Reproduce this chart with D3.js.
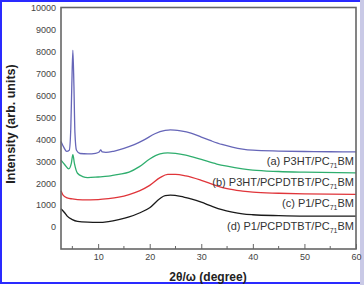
<!DOCTYPE html>
<html>
<head>
<meta charset="utf-8">
<script src="https://cdn.jsdelivr.net/npm/d3@7"></script>
<style>
  html, body { margin: 0; padding: 0; background: #fff; }
  svg { display: block; font-family: Arial, "Liberation Sans", sans-serif; }
</style>
</head>
<body>
<div id="chart"></div>
<script>
'use strict';

// x ticks and y ticks
const xTicks = [10, 20, 30, 40, 50, 60];
const xMinorTicks = [5, 15, 25, 35, 45, 55];
const yTicks = [0, 1000, 2000, 3000, 4000, 5000, 6000, 7000, 8000, 9000, 10000];

// (a) P3HT/PC71BM  [2theta, intensity]
const seriesA = [
  [2.8, 3900], [3.3, 3650], [3.9, 3450], [4.4, 3500], [4.7, 4500], [4.9, 6500],
  [5.1, 8050], [5.3, 6500], [5.5, 4300], [5.8, 3500], [6.5, 3350], [8, 3330],
  [9.5, 3360], [10.2, 3420], [10.5, 3510], [10.8, 3420], [11.5, 3400], [13, 3450],
  [15, 3580], [17, 3750], [19, 3980], [21, 4250], [23, 4400], [24, 4430],
  [26, 4380], [28, 4280], [30, 4100], [32, 3920], [34, 3760], [36, 3640],
  [38, 3550], [40, 3500], [45, 3460], [50, 3440], [55, 3430], [60, 3420]
];
// (b) P3HT/PCPDTBT/PC71BM
const seriesB = [
  [2.8, 3050], [3.5, 2850], [4.3, 2650], [4.8, 2900], [5.1, 3300], [5.4, 2900],
  [6, 2450], [7, 2300], [8, 2250], [10, 2280], [12, 2320], [14, 2400],
  [16, 2500], [18, 2750], [20, 3100], [22, 3330], [23.5, 3380], [25, 3360],
  [27, 3280], [30, 3080], [33, 2870], [35, 2770], [38, 2650], [40, 2590],
  [45, 2530], [50, 2500], [60, 2470]
];
// (c) P1/PC71BM
const seriesC = [
  [2.8, 1650], [3.2, 1450], [4, 1330], [5, 1280], [7, 1240], [10, 1250],
  [12, 1290], [14, 1360], [16, 1480], [18, 1650], [20, 1900], [22, 2250],
  [23.5, 2400], [25, 2400], [27, 2330], [30, 2130], [33, 1880], [35, 1750],
  [38, 1640], [40, 1590], [45, 1540], [50, 1510], [60, 1490]
];
// (d) P1/PCPDTBT/PC71BM
const seriesD = [
  [2.8, 830], [3.5, 650], [4, 500], [5, 340], [6, 260], [8, 220], [10, 210],
  [12, 250], [14, 340], [16, 460], [18, 640], [20, 880], [22, 1300], [23, 1430],
  [24, 1450], [26, 1400], [28, 1280], [30, 1130], [32, 950], [34, 790],
  [36, 680], [38, 600], [40, 560], [45, 520], [50, 500], [55, 500], [60, 500]
];

const labelPrefix = ["(a) P3HT/PC", "(b) P3HT/PCPDTBT/PC", "(c) P1/PC", "(d) P1/PCPDTBT/PC"];
const labelY = [2830, 1870, 910, -130];

const width = 364, height = 285;
const svg = d3.select("#chart").append("svg")
  .attr("width", width)
  .attr("height", height);

// outer blue frame of the picture
svg.append("rect").attr("x", 1).attr("y", 1).attr("width", 361).attr("height", 282)
  .attr("fill", "none").attr("stroke", "#2a2aff").attr("stroke-width", 2);
svg.append("rect").attr("x", 360).attr("y", 0).attr("width", 4).attr("height", 285)
  .attr("fill", "#c9c9e6");

const x = d3.scaleLinear().domain([2.8, 60]).range([61, 356]);
const y = d3.scaleLinear().domain([-1000, 10000]).range([249, 7.5]);

// series
const series = [
  { data: seriesA, color: "#6666b8" },
  { data: seriesB, color: "#2fae6e" },
  { data: seriesC, color: "#e0353a" },
  { data: seriesD, color: "#1a1a1a" }
];
const line = d3.line()
  .x(d => x(d[0]))
  .y(d => y(d[1]))
  .curve(d3.curveMonotoneX);
series.forEach(s => {
  svg.append("path")
    .datum(s.data)
    .attr("fill", "none")
    .attr("stroke", s.color)
    .attr("stroke-width", 1.3)
    .attr("d", line);
});

// plot frame
svg.append("rect")
  .attr("x", x.range()[0]).attr("y", y.range()[1])
  .attr("width", x.range()[1] - x.range()[0])
  .attr("height", y.range()[0] - y.range()[1])
  .attr("fill", "none").attr("stroke", "#666").attr("stroke-width", 1.6);

// bottom axis
const xAxis = svg.append("g").attr("transform", "translate(0," + y.range()[0] + ")")
  .call(d3.axisBottom(x).tickValues(xTicks).tickSize(-5).tickPadding(5).tickFormat(d3.format("d")));
xAxis.select(".domain").remove();
xAxis.selectAll("line").attr("stroke", "#666");
xAxis.selectAll("text").attr("font-size", 9).attr("fill", "#444").attr("font-family", "Arial, 'Liberation Sans', sans-serif");
svg.append("g").attr("transform", "translate(0," + y.range()[0] + ")")
  .selectAll("line").data(xMinorTicks).enter().append("line")
  .attr("x1", d => x(d)).attr("x2", d => x(d))
  .attr("y1", 0).attr("y2", -3)
  .attr("stroke", "#666");

// left axis
const yAxis = svg.append("g").attr("transform", "translate(" + x.range()[0] + ",0)")
  .call(d3.axisLeft(y).tickValues(yTicks).tickSize(0).tickPadding(5).tickFormat(d3.format("d")));
yAxis.select(".domain").remove();
yAxis.selectAll("text").attr("font-size", 9).attr("fill", "#444").attr("font-family", "Arial, 'Liberation Sans', sans-serif");

// axis titles
svg.append("text")
  .attr("x", 208).attr("y", 281)
  .attr("text-anchor", "middle")
  .attr("font-size", 12).attr("font-weight", "bold").attr("fill", "#222")
  .text("2\u03B8/\u03C9 (degree)");
svg.append("text")
  .attr("transform", "translate(15,124) rotate(-90)")
  .attr("text-anchor", "middle")
  .attr("font-size", 12.5).attr("font-weight", "bold").attr("fill", "#222")
  .text("Intensity (arb. units)");

// curve labels
labelPrefix.forEach((p, i) => {
  const t = svg.append("text")
    .attr("x", 354).attr("y", y(labelY[i]))
    .attr("text-anchor", "end")
    .attr("font-size", 11).attr("fill", "#333");
  t.append("tspan").text(p);
  t.append("tspan").attr("font-size", 7).attr("dy", 3).text("71");
  t.append("tspan").attr("dy", -3).text("BM");
});
</script>
</body>
</html>
